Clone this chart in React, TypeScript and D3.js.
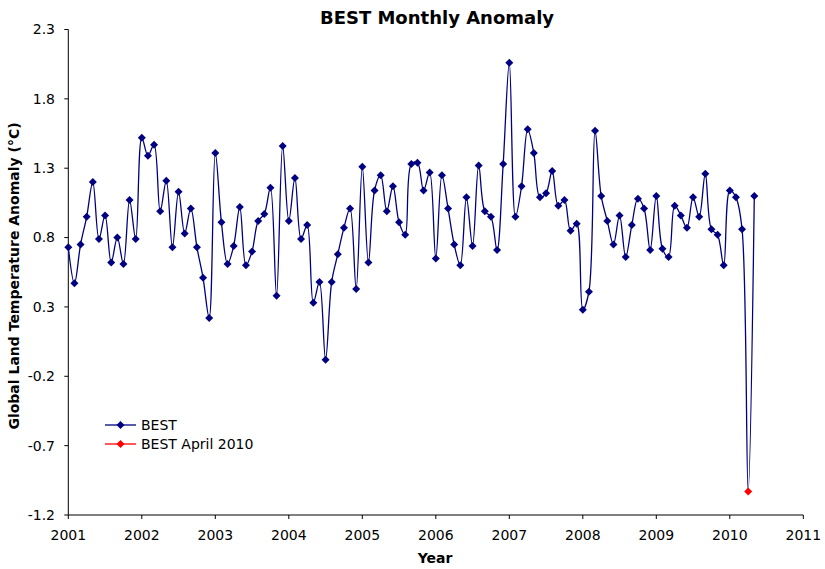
import * as React from "react";
import * as d3 from "d3";

// monthly anomaly, Jan 2001 .. May 2010
const anomaly2001 = [0.73, 0.47, 0.75, 0.95, 1.2, 0.79, 0.96, 0.62, 0.8, 0.61, 1.07, 0.79];
const anomaly2002 = [1.52, 1.39, 1.47, 0.99, 1.21, 0.73, 1.13, 0.83, 1.01, 0.73, 0.51, 0.22];
const anomaly2003 = [1.41, 0.91, 0.61, 0.74, 1.02, 0.6, 0.7, 0.92, 0.97, 1.16, 0.38, 1.46];
const anomaly2004 = [0.92, 1.23, 0.79, 0.89, 0.33, 0.48, -0.08, 0.48, 0.68, 0.87, 1.01, 0.43];
const anomaly2005 = [1.31, 0.62, 1.14, 1.25, 0.99, 1.17, 0.91, 0.82, 1.33, 1.34, 1.14, 1.27];
const anomaly2006 = [0.65, 1.25, 1.01, 0.75, 0.6, 1.09, 0.74, 1.32, 0.99, 0.95, 0.71, 1.33];
const anomaly2007 = [2.06, 0.95, 1.17, 1.58, 1.41, 1.09, 1.12, 1.28, 1.03, 1.07, 0.85, 0.9];
const anomaly2008 = [0.28, 0.41, 1.57, 1.1, 0.92, 0.75, 0.96, 0.66, 0.89, 1.08, 1.01, 0.71];
const anomaly2009 = [1.1, 0.72, 0.66, 1.03, 0.96, 0.87, 1.09, 0.95, 1.26, 0.86, 0.82, 0.6];
const anomaly2010 = [1.14, 1.09, 0.86, -1.03, 1.1];

const startYear = 2001;
const highlightIndex = 111; // April 2010

const xTicks = [2001, 2002, 2003, 2004, 2005, 2006, 2007, 2008, 2009, 2010, 2011];
const yTicks = [-1.2, -0.7, -0.2, 0.3, 0.8, 1.3, 1.8, 2.3];

const values = [
  ...anomaly2001, ...anomaly2002, ...anomaly2003, ...anomaly2004, ...anomaly2005,
  ...anomaly2006, ...anomaly2007, ...anomaly2008, ...anomaly2009, ...anomaly2010,
];

interface Pt {
  t: number;
  v: number;
}

const points: Pt[] = values.map((v, i) => ({ t: startYear + i / 12, v }));

const FONT = "'DejaVu Sans', Verdana, sans-serif";
const NAVY = "#000080";

const diamond = (cx: number, cy: number, r = 4) =>
  `M${cx},${cy - r}L${cx + r},${cy}L${cx},${cy + r}L${cx - r},${cy}Z`;

const App: React.FC = () => {
  const width = 825;
  const height = 569;
  const left = 68.3;
  const right = 803.3;
  const top = 29.5;
  const bottom = 515;

  const x = d3.scaleLinear().domain([2001, 2011]).range([left, right]);
  const y = d3.scaleLinear().domain([-1.2, 2.3]).range([bottom, top]);

  const line = d3
    .line<Pt>()
    .x((d) => x(d.t))
    .y((d) => y(d.v))
    .curve(d3.curveCatmullRom.alpha(0.5));

  const hl = points[highlightIndex];

  return (
    <svg
      width={width}
      height={height}
      style={{ position: "absolute", left: 0, top: 0, background: "#fff" }}
      fontFamily={FONT}
    >
      <text x={437} y={24} textAnchor="middle" fontSize={18} fontWeight="bold">
        BEST Monthly Anomaly
      </text>

      {/* axes */}
      <line x1={left} x2={left} y1={top} y2={bottom} stroke="#000" strokeWidth={1} />
      <line x1={left} x2={right} y1={bottom} y2={bottom} stroke="#000" strokeWidth={1} />
      {yTicks.map((t) => (
        <g key={t}>
          <line x1={left - 4} x2={left} y1={y(t)} y2={y(t)} stroke="#000" />
          <text x={55} y={y(t)} dy="0.35em" textAnchor="end" fontSize={14}>
            {t.toFixed(1)}
          </text>
        </g>
      ))}
      {xTicks.map((t) => (
        <g key={t}>
          <line x1={x(t)} x2={x(t)} y1={bottom} y2={bottom + 4} stroke="#000" />
          <text x={x(t)} y={540} textAnchor="middle" fontSize={14}>
            {t}
          </text>
        </g>
      ))}
      <text x={435} y={563} textAnchor="middle" fontSize={14} fontWeight="bold">
        Year
      </text>
      <text
        transform={`translate(19,${276}) rotate(-90)`}
        textAnchor="middle"
        fontSize={14}
        fontWeight="bold"
      >
        Global Land Temperature Anomaly (°C)
      </text>

      {/* series */}
      <path d={line(points) || ""} fill="none" stroke={NAVY} strokeWidth={1.3} />
      {points.map((p, i) =>
        i === highlightIndex ? null : (
          <path key={i} d={diamond(x(p.t), y(p.v))} fill={NAVY} />
        )
      )}
      <path d={diamond(x(hl.t), y(hl.v))} fill="#ff0000" />

      {/* legend */}
      <line x1={105} x2={136} y1={425} y2={425} stroke={NAVY} strokeWidth={1.3} />
      <path d={diamond(120.5, 425)} fill={NAVY} />
      <text x={141} y={425} dy="0.35em" fontSize={14}>
        BEST
      </text>
      <line x1={105} x2={136} y1={444} y2={444} stroke="#ff0000" strokeWidth={1.3} />
      <path d={diamond(120.5, 444)} fill="#ff0000" />
      <text x={141} y={444} dy="0.35em" fontSize={14}>
        BEST April 2010
      </text>
    </svg>
  );
};

export default App;
